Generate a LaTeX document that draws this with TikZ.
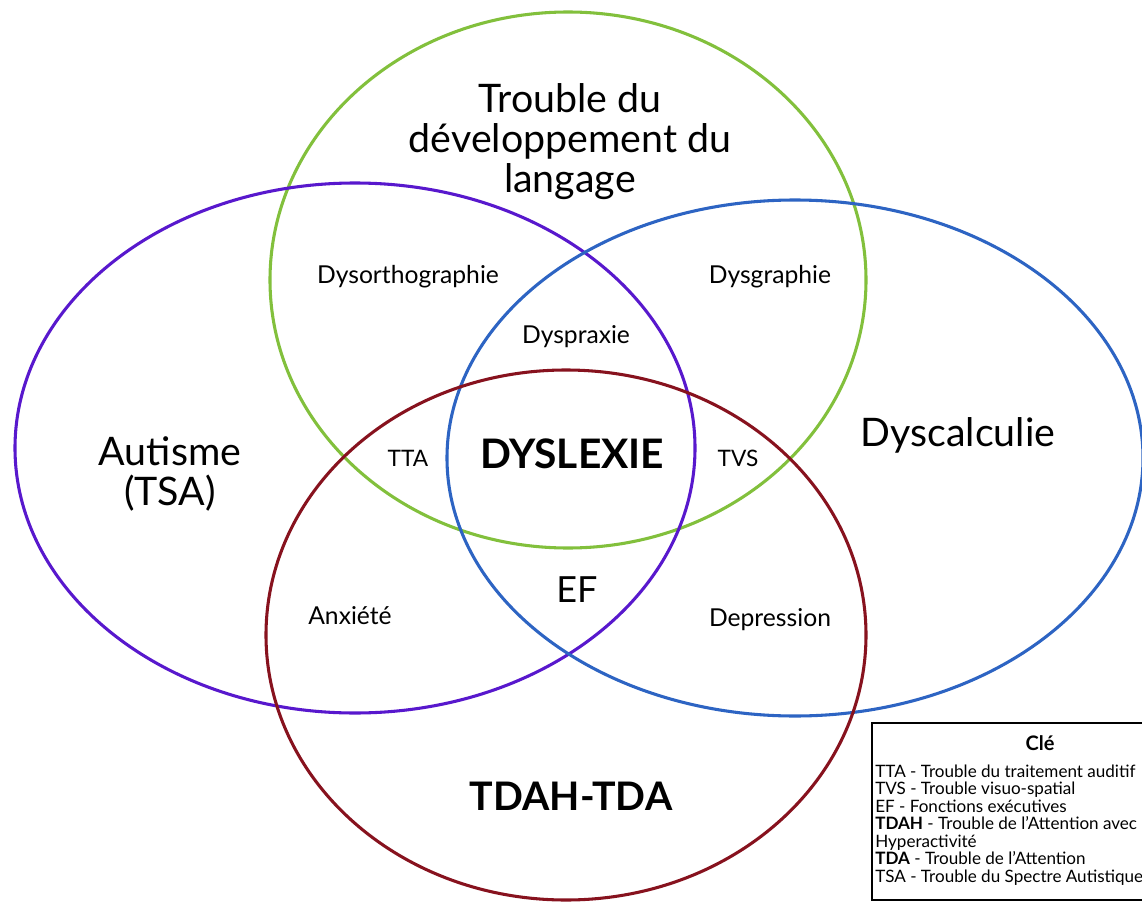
\documentclass[tikz,border=0pt]{standalone}
\usepackage{fontspec}
\setmainfont{Lato}
\definecolor{cgreen}{RGB}{130,192,60}
\definecolor{cpurple}{RGB}{88,24,205}
\definecolor{cblue}{RGB}{45,100,195}
\definecolor{cred}{RGB}{135,18,30}
\begin{document}
\begin{tikzpicture}[x=0.75pt,y=-0.75pt,
  ring/.style={line width=2.3pt},
  big/.style={font=\fontsize{29.5}{30}\selectfont, align=center},
  small/.style={font=\fontsize{18.5}{20}\selectfont},
  keytext/.style={font=\fontsize{12.8}{13.1}\selectfont, anchor=west, inner sep=0pt, align=left}]
\useasboundingbox (0,0) rectangle (1142,906);
\fill[white] (0,0) rectangle (1142,906);
\draw[ring, cgreen] (568,280) ellipse [x radius=298, y radius=268];
\draw[ring, cpurple] (355,448) ellipse [x radius=340, y radius=265];
\draw[ring, cblue] (795,458) ellipse [x radius=348, y radius=258];
\draw[ring, cred] (566,635) ellipse [x radius=300, y radius=265];
\node[big] (tdl) at (570,142) {Trouble du\\développement du\\langage};
\node[big] (aut) at (170,474) {Autisme\\(TSA)};
\node[big] (dyc) at (958,435) {Dyscalculie};
\node[font=\bfseries\fontsize{30.5}{34}\selectfont] (dys) at (572,454) {DYSLEXIE};
\node[font=\bfseries\fontsize{29.5}{32}\selectfont] (tdah) at (571,796) {TDAH-TDA};
\node[small] (dor) at (408,277) {Dysorthographie};
\node[small] (dgr) at (770,277) {Dysgraphie};
\node[small] (dpr) at (576,337) {Dyspraxie};
\node[font=\fontsize{17}{18}\selectfont] (tta) at (408,458) {TTA};
\node[font=\fontsize{17}{18}\selectfont] (tvs) at (738,458) {TVS};
\node[font=\fontsize{27}{29}\selectfont] (ef) at (577,590) {EF};
\node[small] (anx) at (350,616) {Anxiété};
\node[small] (dep) at (770,620) {Depression};
\draw[line width=1pt] (872,723) rectangle (1150,900);
\node[font=\bfseries\fontsize{15}{16}\selectfont] (cle) at (1040,743) {Clé};
\node[keytext] (key) at (875,825) {TTA - Trouble du traitement auditif\\
TVS - Trouble visuo-spatial\\
EF - Fonctions exécutives\\
\textbf{TDAH} - Trouble de l'Attention avec\\
Hyperactivité\\
\textbf{TDA} - Trouble de l'Attention\\
TSA - Trouble du Spectre Autistique};
\end{tikzpicture}
\end{document}
